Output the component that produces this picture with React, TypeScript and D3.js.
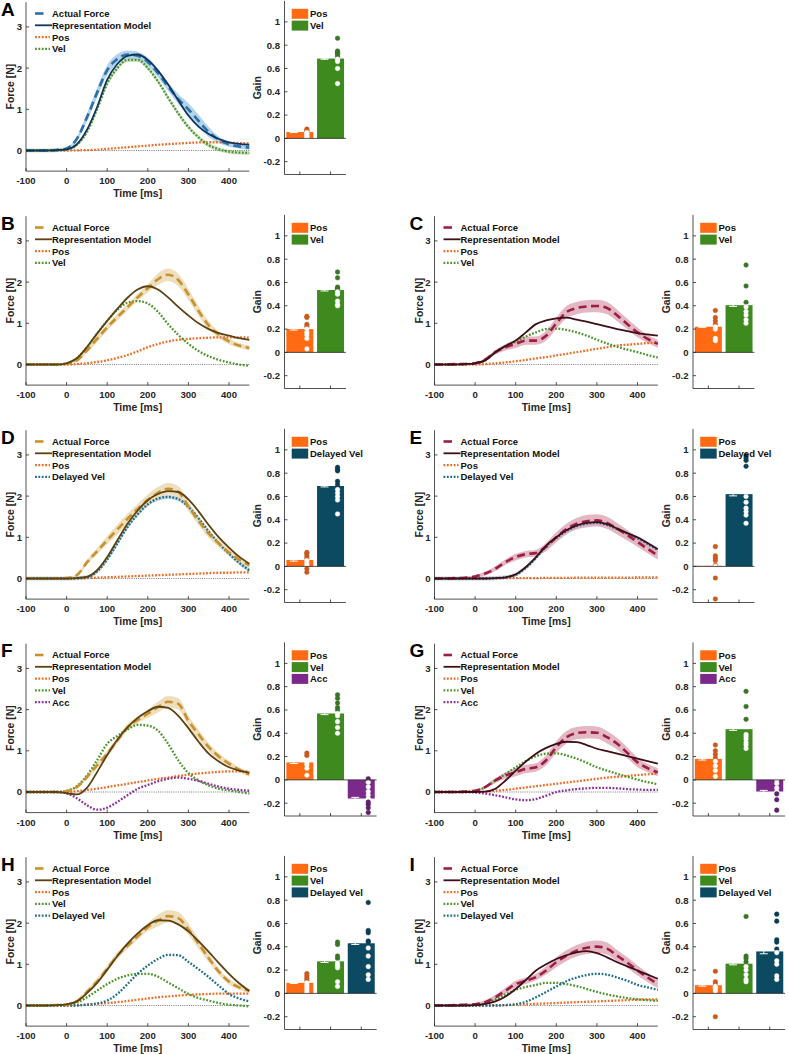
import React from 'react';
import * as d3 from 'd3';

// ---------- time grid (ms) ----------
const T = [-100,-75,-50,-25,0,25,50,75,100,125,150,175,200,225,250,275,300,325,350,375,400,425,450];
const X_TICKS = [-100,0,100,200,300,400];
const F_TICKS = [0,1,2,3];
const G_TICKS = [-0.2,0,0.2,0.4,0.6,0.8,1];

// ---------- Panel A ----------
const actA = [0,0,0,0.01,0.05,0.28,0.8,1.4,1.95,2.22,2.33,2.3,2.15,1.88,1.55,1.25,1.0,0.72,0.45,0.26,0.15,0.1,0.07];
const semA = [0.01,0.01,0.01,0.01,0.02,0.05,0.1,0.12,0.12,0.12,0.1,0.1,0.1,0.1,0.1,0.12,0.15,0.15,0.12,0.08,0.06,0.05,0.05];
const repA = [0,0,0,0.01,0.03,0.15,0.5,1.05,1.72,2.1,2.3,2.33,2.2,1.94,1.6,1.22,0.85,0.58,0.4,0.28,0.2,0.16,0.14];
const velA = [0,0,0,0.01,0.03,0.14,0.45,1.0,1.62,2.0,2.2,2.2,2.0,1.68,1.28,0.9,0.57,0.32,0.13,0.03,-0.03,-0.05,-0.06];
const posA = [0,0,0,0,0,0.005,0.01,0.02,0.04,0.06,0.08,0.1,0.12,0.14,0.155,0.17,0.185,0.195,0.2,0.2,0.19,0.18,0.17];

// ---------- Panel B ----------
const actB = [0,0,0,0,0.02,0.1,0.34,0.62,0.9,1.15,1.39,1.63,1.85,2.07,2.18,2.05,1.7,1.3,0.95,0.72,0.56,0.46,0.4];
const semB = [0.01,0.01,0.01,0.01,0.02,0.04,0.06,0.08,0.08,0.08,0.08,0.08,0.1,0.14,0.15,0.15,0.14,0.12,0.1,0.08,0.07,0.06,0.06];
const repB = [0,0,0,0,0.03,0.15,0.42,0.75,1.06,1.35,1.62,1.82,1.9,1.82,1.63,1.4,1.19,1.0,0.86,0.76,0.7,0.64,0.6];
const velB = [0,0,0,0,0.03,0.15,0.42,0.75,1.06,1.33,1.5,1.54,1.48,1.28,0.98,0.72,0.5,0.33,0.2,0.11,0.05,0,-0.03];
const posB = [0,0,0,0,0,0.01,0.03,0.06,0.1,0.16,0.23,0.32,0.42,0.5,0.56,0.6,0.62,0.64,0.65,0.66,0.66,0.66,0.65];

// ---------- Panel C ----------
const actC = [0,0,0.01,0.01,0.03,0.12,0.3,0.42,0.5,0.58,0.58,0.7,1.0,1.27,1.37,1.41,1.42,1.37,1.19,0.98,0.78,0.62,0.5];
const semC = [0.01,0.01,0.01,0.01,0.02,0.04,0.06,0.08,0.1,0.1,0.1,0.12,0.14,0.15,0.15,0.15,0.15,0.15,0.14,0.13,0.12,0.1,0.1];
const repC = [0,0,0,0.01,0.03,0.1,0.3,0.45,0.58,0.78,0.98,1.07,1.12,1.14,1.09,1.04,0.98,0.92,0.86,0.81,0.76,0.73,0.7];
const velC = [0,0,0,0.01,0.03,0.1,0.3,0.45,0.55,0.68,0.78,0.86,0.87,0.84,0.78,0.7,0.6,0.51,0.43,0.36,0.3,0.23,0.17];
const posC = [0,0,0,0,0,0.01,0.03,0.05,0.08,0.11,0.15,0.18,0.22,0.26,0.3,0.34,0.38,0.42,0.46,0.48,0.5,0.52,0.53];

// ---------- Panel D ----------
const actD = [0,0,0,0,0.01,0.08,0.39,0.66,0.93,1.19,1.45,1.69,1.91,2.08,2.18,2.1,1.75,1.4,1.09,0.85,0.63,0.46,0.32];
const semD = [0.01,0.01,0.01,0.01,0.01,0.03,0.06,0.08,0.1,0.12,0.12,0.12,0.13,0.14,0.14,0.14,0.12,0.1,0.1,0.09,0.08,0.07,0.07];
const repD = [0,0,0,0,0,0.01,0.04,0.2,0.52,0.93,1.33,1.65,1.9,2.05,2.12,2.1,1.92,1.63,1.3,1.0,0.75,0.53,0.36];
const dvD = [0,0,0,0,0,0.01,0.03,0.17,0.46,0.85,1.25,1.56,1.8,1.94,1.98,1.93,1.74,1.46,1.14,0.85,0.6,0.38,0.2];
const posD = [0,0,0,0,0,0,0.01,0.02,0.03,0.04,0.05,0.06,0.07,0.08,0.09,0.1,0.11,0.12,0.13,0.14,0.14,0.15,0.15];

// ---------- Panel E ----------
const actE = [0,0,0.01,0.02,0.05,0.12,0.24,0.4,0.52,0.59,0.62,0.77,1.0,1.2,1.33,1.39,1.41,1.35,1.21,1.05,0.89,0.72,0.56];
const semE = [0.01,0.01,0.01,0.02,0.03,0.05,0.06,0.07,0.08,0.08,0.08,0.1,0.12,0.13,0.14,0.15,0.15,0.15,0.14,0.13,0.12,0.11,0.1];
const repE = [0,0,0,0,0,0,0.01,0.03,0.1,0.28,0.52,0.8,1.0,1.17,1.29,1.35,1.37,1.32,1.21,1.1,1.0,0.86,0.71];
const dvE = [0,0,0,0,0,0,0.01,0.03,0.09,0.26,0.5,0.78,0.98,1.15,1.27,1.33,1.35,1.3,1.2,1.09,0.98,0.84,0.69];
const posE = [0,0,0,0,0,0.005,0.005,0.01,0.01,0.01,0.01,0.015,0.015,0.015,0.02,0.02,0.02,0.02,0.02,0.02,0.025,0.025,0.025];

// ---------- Panel F ----------
const actF = [0,0,0,0,0.02,0.12,0.36,0.65,0.93,1.25,1.57,1.75,1.9,2.06,2.19,2.14,1.73,1.4,1.09,0.86,0.69,0.54,0.43];
const semF = [0.01,0.01,0.01,0.01,0.02,0.04,0.06,0.08,0.08,0.08,0.08,0.08,0.1,0.13,0.14,0.14,0.13,0.12,0.1,0.08,0.07,0.06,0.06];
const repF = [0,0,0,0,-0.03,-0.06,0.1,0.48,0.9,1.27,1.57,1.8,1.96,2.07,2.04,1.85,1.55,1.22,0.93,0.74,0.6,0.52,0.47];
const velF = [0,0,0,0,0.03,0.14,0.4,0.77,1.17,1.36,1.52,1.63,1.61,1.49,1.17,0.77,0.46,0.28,0.16,0.08,0.04,0,-0.04];
const accF = [0,0,0,0,-0.03,-0.15,-0.32,-0.43,-0.38,-0.24,-0.08,0.08,0.17,0.26,0.32,0.35,0.32,0.27,0.2,0.13,0.08,0.05,0.03];
const posF = [0,0,0,0,0,0.02,0.05,0.08,0.12,0.16,0.2,0.24,0.28,0.32,0.35,0.39,0.42,0.45,0.47,0.49,0.5,0.5,0.5];

// ---------- Panel G ----------
const actG = [0,0,0,0.01,0.03,0.12,0.28,0.4,0.48,0.56,0.6,0.77,1.09,1.33,1.43,1.45,1.44,1.33,1.17,0.95,0.72,0.58,0.48];
const semG = [0.01,0.01,0.01,0.01,0.02,0.04,0.06,0.08,0.1,0.1,0.1,0.12,0.14,0.15,0.15,0.15,0.15,0.15,0.14,0.13,0.12,0.1,0.1];
const repG = [0,0,0,0,0,0.01,0.08,0.28,0.52,0.74,0.93,1.07,1.17,1.22,1.21,1.14,1.05,0.99,0.93,0.87,0.81,0.75,0.69];
const velG = [0,0,0,0.01,0.03,0.12,0.28,0.44,0.6,0.75,0.87,0.93,0.94,0.89,0.81,0.71,0.6,0.52,0.44,0.37,0.3,0.24,0.19];
const accG = [0,0,0,0,-0.01,-0.04,-0.08,-0.13,-0.18,-0.2,-0.17,-0.09,0,0.04,0.07,0.09,0.1,0.1,0.09,0.07,0.06,0.05,0.05];
const posG = [0,0,0,0,0,0.01,0.03,0.05,0.08,0.11,0.14,0.17,0.2,0.23,0.26,0.29,0.32,0.35,0.37,0.39,0.41,0.43,0.45];

// ---------- Panel H ----------
const actH = [0,0,0,0.01,0.02,0.1,0.33,0.58,0.89,1.21,1.45,1.68,1.9,2.06,2.17,2.12,1.85,1.5,1.15,0.82,0.58,0.44,0.36];
const semH = [0.01,0.01,0.01,0.01,0.02,0.04,0.06,0.08,0.08,0.08,0.08,0.08,0.1,0.14,0.15,0.15,0.14,0.12,0.1,0.08,0.07,0.06,0.06];
const repH = [0,0,0,0.01,0.03,0.1,0.3,0.55,0.87,1.2,1.5,1.75,1.95,2.07,2.06,1.97,1.8,1.56,1.3,1.03,0.77,0.54,0.35];
const velH = [0,0,0,0.01,0.02,0.07,0.2,0.36,0.52,0.65,0.73,0.77,0.77,0.7,0.56,0.42,0.28,0.18,0.12,0.06,0.02,0,-0.02];
const dvH = [0,0,0,0,0,0,0.02,0.05,0.12,0.28,0.52,0.77,0.97,1.13,1.23,1.22,1.06,0.88,0.69,0.48,0.28,0.17,0.1];
const posH = [0,0,0,0,0,0.01,0.02,0.04,0.06,0.08,0.11,0.14,0.17,0.2,0.22,0.24,0.26,0.27,0.28,0.29,0.29,0.29,0.29];

// ---------- Panel I ----------
const actI = [0,0,0.01,0.02,0.03,0.08,0.2,0.36,0.52,0.6,0.69,0.85,1.05,1.21,1.33,1.4,1.43,1.38,1.21,1.04,0.85,0.68,0.52];
const semI = [0.01,0.01,0.01,0.02,0.03,0.05,0.06,0.07,0.08,0.08,0.08,0.1,0.12,0.13,0.14,0.15,0.15,0.15,0.14,0.13,0.12,0.11,0.1];
const repI = [0,0,0,0,0.01,0.04,0.1,0.22,0.4,0.62,0.85,1.0,1.13,1.22,1.29,1.32,1.27,1.17,1.05,0.95,0.85,0.75,0.65];
const velI = [0,0,0,0,0.01,0.05,0.15,0.27,0.38,0.45,0.5,0.55,0.55,0.52,0.47,0.4,0.33,0.27,0.22,0.18,0.15,0.13,0.11];
const dvI = [0,0,0,0,0,0,0,0.01,0.03,0.09,0.2,0.33,0.46,0.59,0.68,0.74,0.77,0.75,0.68,0.6,0.5,0.44,0.38];
const posI = [0,0,0,0,0,0,0.005,0.01,0.02,0.03,0.04,0.05,0.06,0.07,0.08,0.09,0.1,0.11,0.12,0.13,0.14,0.15,0.15];

// ---------- Gains (bar charts) ----------
const gainA_names = ['Pos','Vel'];
const gainA_mean = [0.055,0.685];
const gainA_se = [0.005,0.006];
const gainA_dots = [[0.08,0.07,0.06,0.05,0.04,0.03,0.02,0.01,0.0],[0.86,0.75,0.74,0.73,0.72,0.7,0.68,0.66,0.6,0.47]];

const gainB_names = ['Pos','Vel'];
const gainB_mean = [0.2,0.535];
const gainB_se = [0.008,0.008];
const gainB_dots = [[0.31,0.3,0.24,0.22,0.2,0.17,0.15,0.12,0.03],[0.69,0.64,0.56,0.55,0.54,0.52,0.5,0.44,0.41,0.4]];

const gainC_names = ['Pos','Vel'];
const gainC_mean = [0.22,0.405];
const gainC_se = [0.005,0.01];
const gainC_dots = [[0.36,0.3,0.27,0.24,0.22,0.2,0.12,0.1],[0.75,0.57,0.43,0.39,0.35,0.32,0.28,0.25]];

const gainD_names = ['Pos','Delayed Vel'];
const gainD_mean = [0.055,0.69];
const gainD_se = [0.01,0.008];
const gainD_dots = [[0.12,0.11,0.09,0.07,0.05,0.03,0.01,-0.02,-0.05],[0.85,0.83,0.82,0.73,0.7,0.66,0.63,0.6,0.57,0.45]];

const gainE_names = ['Pos','Delayed Vel'];
const gainE_mean = [0.005,0.62];
const gainE_se = [0.015,0.015];
const gainE_dots = [[0.17,0.09,0.07,0.05,0.01,0.0,-0.1,-0.28],[0.95,0.93,0.91,0.86,0.6,0.55,0.5,0.47,0.44,0.37]];

const gainF_names = ['Pos','Vel','Acc'];
const gainF_mean = [0.15,0.57,-0.16];
const gainF_se = [0.01,0.01,0.01];
const gainF_dots = [[0.23,0.21,0.15,0.13,0.1,0.04],[0.73,0.7,0.66,0.62,0.6,0.57,0.55,0.5,0.45,0.4],[0.01,-0.02,-0.06,-0.1,-0.13,-0.16,-0.19,-0.21,-0.24,-0.28]];

const gainG_names = ['Pos','Vel','Acc'];
const gainG_mean = [0.18,0.435,-0.1];
const gainG_se = [0.01,0.01,0.01];
const gainG_dots = [[0.3,0.25,0.22,0.19,0.16,0.12,0.08,0.03],[0.76,0.63,0.52,0.39,0.37,0.35,0.32,0.3,0.27],[0.0,-0.03,-0.07,-0.1,-0.12,-0.17,-0.26]];

const gainH_names = ['Pos','Vel','Delayed Vel'];
const gainH_mean = [0.09,0.275,0.43];
const gainH_se = [0.005,0.01,0.01];
const gainH_dots = [[0.17,0.15,0.13,0.11,0.09,0.07,0.05,0.03,0.01],[0.44,0.42,0.32,0.3,0.26,0.24,0.22,0.1,0.06],[0.78,0.54,0.52,0.45,0.44,0.39,0.32,0.23,0.16,0.12]];

const gainI_names = ['Pos','Vel','Delayed Vel'];
const gainI_mean = [0.07,0.255,0.36];
const gainI_se = [0.008,0.01,0.02];
const gainI_dots = [[0.19,0.1,0.08,0.06,0.05,0.04,0.02,-0.2],[0.66,0.32,0.3,0.27,0.23,0.2,0.16,0.12,0.1],[0.68,0.62,0.46,0.44,0.38,0.35,0.28,0.25,0.15,0.12]];

// ---------- styles ----------
const FONT = '"Liberation Sans", Arial, Helvetica, sans-serif';
const AXIS = '#262626';
const THEMES: Record<string, {act: string; band: string; rep: string}> = {
  blue: { act: '#2b6fa8', band: '#a6cbe6', rep: '#10355a' },
  gold: { act: '#c8912c', band: '#ead8b2', rep: '#5c4112' },
  red:  { act: '#9e1d42', band: '#deaab9', rep: '#3e0e19' },
};
const COMP_COLOR: Record<string, string> = { Pos: '#f26a21', Vel: '#4b962c', 'Delayed Vel': '#1f6e8c', Acc: '#8c2f9f' };
const BAR_COLOR: Record<string, string> = { Pos: '#ff6a12', Vel: '#3f8a1f', 'Delayed Vel': '#0c4a62', Acc: '#7b2a8b' };
const DOT_COLOR: Record<string, string> = { Pos: '#c95a1c', Vel: '#3a7426', 'Delayed Vel': '#0a3d52', Acc: '#5e1f6c' };

const COL_DX = [0, 408.5];
const ROW_DY = [0, 214, 428, 641.5, 855];

type Comp = { name: string; values: number[] };
type PanelDef = {
  letter: string; row: number; col: number; theme: string;
  act: number[]; sem: number[]; rep: number[]; comps: Comp[]; band?: boolean;
  gNames: string[]; gMean: number[]; gSe: number[]; gDots: number[][];
};

const PANELS: PanelDef[] = [
  { letter: 'A', row: 0, col: 0, theme: 'blue', act: actA, sem: semA, rep: repA, band: true,
    comps: [{ name: 'Pos', values: posA }, { name: 'Vel', values: velA }],
    gNames: gainA_names, gMean: gainA_mean, gSe: gainA_se, gDots: gainA_dots },
  { letter: 'B', row: 1, col: 0, theme: 'gold', act: actB, sem: semB, rep: repB,
    comps: [{ name: 'Pos', values: posB }, { name: 'Vel', values: velB }],
    gNames: gainB_names, gMean: gainB_mean, gSe: gainB_se, gDots: gainB_dots },
  { letter: 'C', row: 1, col: 1, theme: 'red', act: actC, sem: semC, rep: repC,
    comps: [{ name: 'Pos', values: posC }, { name: 'Vel', values: velC }],
    gNames: gainC_names, gMean: gainC_mean, gSe: gainC_se, gDots: gainC_dots },
  { letter: 'D', row: 2, col: 0, theme: 'gold', act: actD, sem: semD, rep: repD, band: true,
    comps: [{ name: 'Pos', values: posD }, { name: 'Delayed Vel', values: dvD }],
    gNames: gainD_names, gMean: gainD_mean, gSe: gainD_se, gDots: gainD_dots },
  { letter: 'E', row: 2, col: 1, theme: 'red', act: actE, sem: semE, rep: repE, band: true,
    comps: [{ name: 'Pos', values: posE }, { name: 'Delayed Vel', values: dvE }],
    gNames: gainE_names, gMean: gainE_mean, gSe: gainE_se, gDots: gainE_dots },
  { letter: 'F', row: 3, col: 0, theme: 'gold', act: actF, sem: semF, rep: repF,
    comps: [{ name: 'Pos', values: posF }, { name: 'Vel', values: velF }, { name: 'Acc', values: accF }],
    gNames: gainF_names, gMean: gainF_mean, gSe: gainF_se, gDots: gainF_dots },
  { letter: 'G', row: 3, col: 1, theme: 'red', act: actG, sem: semG, rep: repG,
    comps: [{ name: 'Pos', values: posG }, { name: 'Vel', values: velG }, { name: 'Acc', values: accG }],
    gNames: gainG_names, gMean: gainG_mean, gSe: gainG_se, gDots: gainG_dots },
  { letter: 'H', row: 4, col: 0, theme: 'gold', act: actH, sem: semH, rep: repH,
    comps: [{ name: 'Pos', values: posH }, { name: 'Vel', values: velH }, { name: 'Delayed Vel', values: dvH }],
    gNames: gainH_names, gMean: gainH_mean, gSe: gainH_se, gDots: gainH_dots },
  { letter: 'I', row: 4, col: 1, theme: 'red', act: actI, sem: semI, rep: repI,
    comps: [{ name: 'Pos', values: posI }, { name: 'Vel', values: velI }, { name: 'Delayed Vel', values: dvI }],
    gNames: gainI_names, gMean: gainI_mean, gSe: gainI_se, gDots: gainI_dots },
];

function LinePanel({ p }: { p: PanelDef }) {
  const dx = COL_DX[p.col];
  const dy = ROW_DY[p.row];
  const th = THEMES[p.theme];
  const x = d3.scaleLinear().domain([-100, 450]).range([26 + dx, 249.3 + dx]);
  const y = d3.scaleLinear().domain([-0.5, 3.6]).range([171.1 + dy, 2.2 + dy]);
  const line = (vals: number[]) =>
    d3.line<number>().x((_, i) => x(T[i])).y((v) => y(v)).curve(d3.curveMonotoneX)(vals) || '';
  const area = (vals: number[], sem: number[]) =>
    d3.area<number>().x((_, i) => x(T[i])).y0((v, i) => y(v - sem[i])).y1((v, i) => y(v + sem[i]))
      .curve(d3.curveMonotoneX)(vals) || '';
  const compBand = p.comps.length ? p.comps[p.comps.length - 1] : null;
  const thinSem = T.map(() => 0.05);
  const legend = [
    { name: 'Actual Force', kind: 'act' },
    { name: 'Representation Model', kind: 'rep' },
    ...p.comps.map((c) => ({ name: c.name, kind: 'comp' })),
  ];
  const [x0, x1] = x.range();
  const [yb, yt] = y.range();
  return (
    <g>
      {p.band && compBand && (
        <path d={area(compBand.values, thinSem)} fill={COMP_COLOR[compBand.name]} opacity={0.28} />
      )}
      <path d={area(p.act, p.sem)} fill={th.band} opacity={0.85} />
      <line x1={x0} x2={x1} y1={y(0)} y2={y(0)} stroke="#444" strokeWidth={0.7} strokeDasharray="1,1.2" />
      {p.comps.map((c) => (
        <path key={c.name} d={line(c.values)} fill="none" stroke={COMP_COLOR[c.name]} strokeWidth={2.3}
          strokeDasharray="1.8,1.6" />
      ))}
      <path d={line(p.act)} fill="none" stroke={th.act} strokeWidth={2.6} strokeDasharray="8,4.5" />
      <path d={line(p.rep)} fill="none" stroke={th.rep} strokeWidth={1.8} />
      <line x1={x0} x2={x1} y1={yb} y2={yb} stroke={AXIS} strokeWidth={0.8} />
      <line x1={x0} x2={x0} y1={yb} y2={yt} stroke={AXIS} strokeWidth={0.8} />
      {X_TICKS.map((t) => (
        <g key={'xt' + t}>
          <line x1={x(t)} x2={x(t)} y1={yb} y2={yb - 3} stroke={AXIS} strokeWidth={0.8} />
          <text x={x(t)} y={yb + 13} textAnchor="middle" fontSize={9.6} fontWeight="bold" fill={AXIS}
            fontFamily={FONT}>{t}</text>
        </g>
      ))}
      {F_TICKS.map((t) => (
        <g key={'yt' + t}>
          <line x1={x0} x2={x0 + 3} y1={y(t)} y2={y(t)} stroke={AXIS} strokeWidth={0.8} />
          <text x={x0 - 4} y={y(t) + 3.4} textAnchor="end" fontSize={9.6} fontWeight="bold" fill={AXIS}
            fontFamily={FONT}>{t}</text>
        </g>
      ))}
      <text x={(x0 + x1) / 2} y={yb + 26} textAnchor="middle" fontSize={10.4} fontWeight="bold" fill={AXIS}
        fontFamily={FONT}>Time [ms]</text>
      <text transform={`translate(${14 + dx},${(yb + yt) / 2}) rotate(-90)`} textAnchor="middle" fontSize={10.4}
        fontWeight="bold" fill={AXIS} fontFamily={FONT}>Force [N]</text>
      {legend.map((l, i) => {
        const cy = 13.5 + 11.8 * i + dy;
        let sample;
        if (l.kind === 'act') {
          sample = <line x1={35 + dx} x2={43.5 + dx} y1={cy} y2={cy} stroke={th.act} strokeWidth={2.6} />;
        } else if (l.kind === 'rep') {
          sample = <line x1={35 + dx} x2={52 + dx} y1={cy} y2={cy} stroke={th.rep} strokeWidth={1.8} />;
        } else {
          sample = <line x1={35 + dx} x2={50 + dx} y1={cy} y2={cy} stroke={COMP_COLOR[l.name]} strokeWidth={2.3}
            strokeDasharray="1.8,1.6" />;
        }
        return (
          <g key={'lg' + i}>
            {sample}
            <text x={52 + dx} y={cy + 3.4} fontSize={9.5} fontWeight="bold" fill="#111" fontFamily={FONT}>{l.name}</text>
          </g>
        );
      })}
      <text x={1 + dx} y={15.5 + dy} fontSize={19} fontWeight="bold" fill="#000" fontFamily={FONT}>{p.letter}</text>
    </g>
  );
}

function BarPanel({ p }: { p: PanelDef }) {
  const dx = COL_DX[p.col];
  const dy = ROW_DY[p.row];
  const n = p.gNames.length;
  const x = d3.scaleLinear().domain([0.5, n + 0.5]).range([284.5 + dx, 284.5 + dx + 30.7 * n]);
  const y = d3.scaleLinear().domain([-0.31, 1.18]).range([174.5 + dy, 0.9 + dy]);
  const bw = 27;
  const [x0, x1] = x.range();
  const [yb, yt] = y.range();
  return (
    <g>
      {p.gNames.map((name, i) => {
        const c = x(i + 1);
        const m = p.gMean[i];
        const se = p.gSe[i];
        const top = Math.min(y(m), y(0));
        const h = Math.abs(y(m) - y(0));
        const ex = c - 6;
        return (
          <g key={name}>
            <rect x={c - bw / 2} y={top} width={bw} height={Math.max(h, 0.6)} fill={BAR_COLOR[name]} />
            <line x1={ex} x2={ex} y1={y(m - se)} y2={y(m + se)} stroke="#fff" strokeWidth={1} />
            <line x1={ex - 4} x2={ex + 4} y1={y(m - se)} y2={y(m - se)} stroke="#fff" strokeWidth={1} />
            <line x1={ex - 4} x2={ex + 4} y1={y(m + se)} y2={y(m + se)} stroke="#fff" strokeWidth={1} />
            {p.gDots[i].map((v, k) => {
              const inside = m >= 0 ? v >= 0 && v <= m : v <= 0 && v >= m;
              return (
                <circle key={k} cx={c + 7} cy={y(v)} r={2.3} fill={inside ? '#fff' : DOT_COLOR[name]}
                  stroke={inside ? '#f4f4f4' : DOT_COLOR[name]} strokeWidth={0.5} />
              );
            })}
          </g>
        );
      })}
      <line x1={x0} x2={x1} y1={y(0)} y2={y(0)} stroke={AXIS} strokeWidth={0.8} />
      <line x1={x0} x2={x1} y1={yb} y2={yb} stroke={AXIS} strokeWidth={0.8} />
      <line x1={x0} x2={x0} y1={yb} y2={yt} stroke={AXIS} strokeWidth={0.8} />
      {p.gNames.map((name, i) => (
        <line key={'t' + name} x1={x(i + 1)} x2={x(i + 1)} y1={yb} y2={yb - 3} stroke={AXIS} strokeWidth={0.8} />
      ))}
      {G_TICKS.map((t) => (
        <g key={'g' + t}>
          <line x1={x0} x2={x0 + 3} y1={y(t)} y2={y(t)} stroke={AXIS} strokeWidth={0.8} />
          <text x={x0 - 4.5} y={y(t) + 3.4} textAnchor="end" fontSize={9.6} fontWeight="bold" fill={AXIS}
            fontFamily={FONT}>{t}</text>
        </g>
      ))}
      <text transform={`translate(${261 + dx},${(yb + yt) / 2}) rotate(-90)`} textAnchor="middle" fontSize={10.4}
        fontWeight="bold" fill={AXIS} fontFamily={FONT}>Gain</text>
      {p.gNames.map((name, i) => {
        const cy = 13.8 + 11.8 * i + dy;
        return (
          <g key={'bl' + name}>
            <rect x={291.7 + dx} y={cy - 5} width={16.5} height={10} fill={BAR_COLOR[name]} />
            <text x={310 + dx} y={cy + 3.4} fontSize={9.5} fontWeight="bold" fill="#111" fontFamily={FONT}>{name}</text>
          </g>
        );
      })}
    </g>
  );
}

export default function App() {
  return (
    <svg width={788} height={1054} style={{ position: 'absolute', left: 0, top: 0, background: '#fff' }}>
      <rect x={0} y={0} width={788} height={1054} fill="#fff" />
      {PANELS.map((p) => (
        <g key={p.letter}>
          <LinePanel p={p} />
          <BarPanel p={p} />
        </g>
      ))}
    </svg>
  );
}
